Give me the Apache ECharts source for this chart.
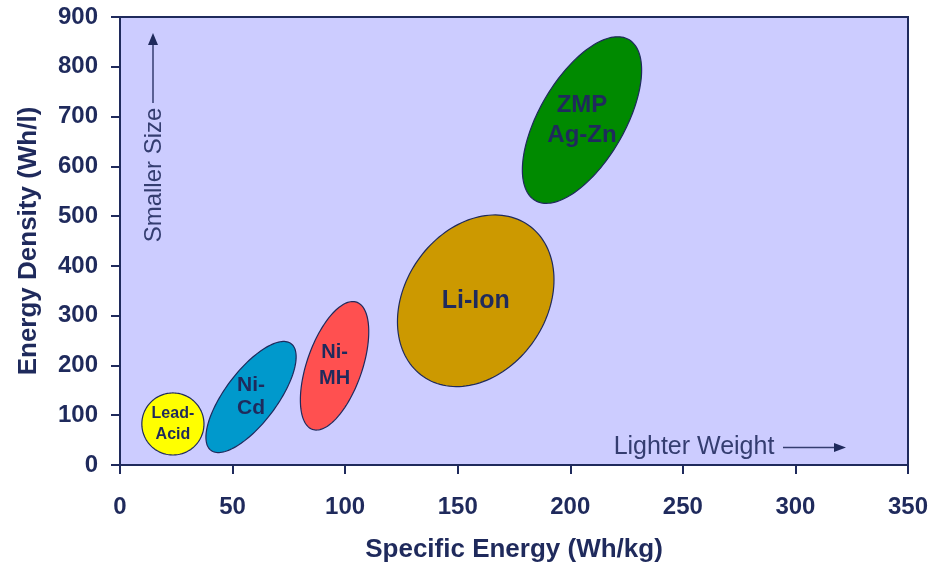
<!DOCTYPE html>
<html>
<head>
<meta charset="utf-8">
<script src="https://cdn.jsdelivr.net/npm/echarts@6/dist/echarts.min.js"></script>
<style>html,body{margin:0;padding:0;background:#fff}#c{width:938px;height:570px}</style>
</head>
<body>
<div id="c"></div>
<script>
// Battery chemistries: ellipse centre and conjugate half-axes in data units
const categories = ['Lead-\nAcid', 'Ni-\nCd', 'Ni-\nMH', 'Li-Ion', 'ZMP\nAg-Zn'];
const centerSpecificEnergy = [23.5, 58.2, 95.3, 158.0, 205.2];   // Wh/kg
const centerEnergyDensity = [82.4, 136.6, 199.3, 329.9, 693.0];  // Wh/l
const majorDx = [13.8, 17.8, 9.8, 23.3, 20.8];
const majorDy = [0, 107.1, 127.8, 152.3, 161.7];
const minorDx = [0, 9.2, 11.6, 25.8, 16.4];
const minorDy = [62.3, -31.4, -18.2, -80.8, -43.2];
const xTicks = [0, 50, 100, 150, 200, 250, 300, 350];
const yTicks = [0, 100, 200, 300, 400, 500, 600, 700, 800, 900];

const fillColors = ['#ffff00', '#0099cc', '#ff5050', '#cc9900', '#008a00'];
const labelFonts = [
  {size: 16, weight: 'bold', lh: 21},
  {size: 21, weight: 'bold', lh: 23},
  {size: 20, weight: 'bold', lh: 26},
  {size: 25, weight: 'bold', lh: 25},
  {size: 24, weight: 'bold', lh: 30}
];
const navy = '#1f2a5c';
const FONT = '"Liberation Sans", Arial, sans-serif';

const chart = echarts.init(document.getElementById('c'));

function renderItem(params, api) {
  const i = params.dataIndex;
  const cx = api.value(0), cy = api.value(1);
  const ax = api.value(2), ay = api.value(3), bx = api.value(4), by = api.value(5);
  const pts = [];
  const N = 144;
  for (let k = 0; k < N; k++) {
    const t = 2 * Math.PI * k / N;
    pts.push(api.coord([cx + ax * Math.cos(t) + bx * Math.sin(t),
                        cy + ay * Math.cos(t) + by * Math.sin(t)]));
  }
  const c = api.coord([cx, cy]);
  const f = labelFonts[i];
  return {
    type: 'group',
    children: [
      {type: 'polygon', shape: {points: pts},
       style: {fill: fillColors[i], stroke: navy, lineWidth: 1.2}},
      {type: 'text', x: c[0], y: c[1],
       style: {text: categories[i], fill: navy, fontSize: f.size, fontWeight: f.weight,
               fontFamily: FONT, lineHeight: f.lh, align: 'center', verticalAlign: 'middle',
               textAlign: 'center', textVerticalAlign: 'middle'}}
    ]
  };
}

const data = categories.map((c, i) => [centerSpecificEnergy[i], centerEnergyDensity[i],
  majorDx[i], majorDy[i], minorDx[i], minorDy[i]]);

chart.setOption({
  animation: false,
  grid: {left: 120, right: 30, top: 17, bottom: 105, show: true,
         backgroundColor: '#ccccff', borderColor: navy, borderWidth: 2},
  xAxis: {
    type: 'value', min: xTicks[0], max: xTicks[xTicks.length - 1], interval: 50,
    name: 'Specific Energy (Wh/kg)', nameLocation: 'middle', nameGap: 72,
    nameTextStyle: {fontSize: 26, fontWeight: 'bold', color: navy, fontFamily: FONT},
    axisLine: {lineStyle: {color: navy, width: 2}},
    axisTick: {show: true, length: 9, lineStyle: {color: navy, width: 2}},
    axisLabel: {fontSize: 24, fontWeight: 'bold', color: navy, fontFamily: FONT, margin: 30},
    splitLine: {show: false}
  },
  yAxis: {
    type: 'value', min: yTicks[0], max: yTicks[yTicks.length - 1], interval: 100,
    name: 'Energy Density (Wh/l)', nameLocation: 'middle', nameGap: 78,
    nameTextStyle: {fontSize: 26, fontWeight: 'bold', color: navy, fontFamily: FONT},
    axisLine: {show: true, lineStyle: {color: navy, width: 2}},
    axisTick: {show: true, length: 9, lineStyle: {color: navy, width: 2}},
    axisLabel: {fontSize: 24, fontWeight: 'bold', color: navy, fontFamily: FONT, margin: 22},
    splitLine: {show: false}
  },
  series: [{
    type: 'custom',
    renderItem: renderItem,
    data: data,
    encode: {x: 0, y: 1},
    clip: true
  }],
  graphic: [
    {type: 'text', x: 154, y: 175, rotation: Math.PI / 2,
     style: {text: 'Smaller Size', fontSize: 24, fontFamily: FONT, fill: '#343d70',
             align: 'center', verticalAlign: 'middle'}},
    {type: 'line', shape: {x1: 153, y1: 103, x2: 153, y2: 42},
     style: {stroke: '#343d70', lineWidth: 1.5}},
    {type: 'polygon', shape: {points: [[153, 33], [148, 45], [158, 45]]},
     style: {fill: '#1f2a5c'}},
    {type: 'text', x: 694, y: 447,
     style: {text: 'Lighter Weight', fontSize: 25, fontFamily: FONT, fill: '#343d70',
             align: 'center', verticalAlign: 'middle'}},
    {type: 'line', shape: {x1: 783, y1: 447.5, x2: 835, y2: 447.5},
     style: {stroke: '#343d70', lineWidth: 1.5}},
    {type: 'polygon', shape: {points: [[846, 447.5], [834, 443], [834, 452]]},
     style: {fill: '#1f2a5c'}}
  ]
});
</script>
</body>
</html>
